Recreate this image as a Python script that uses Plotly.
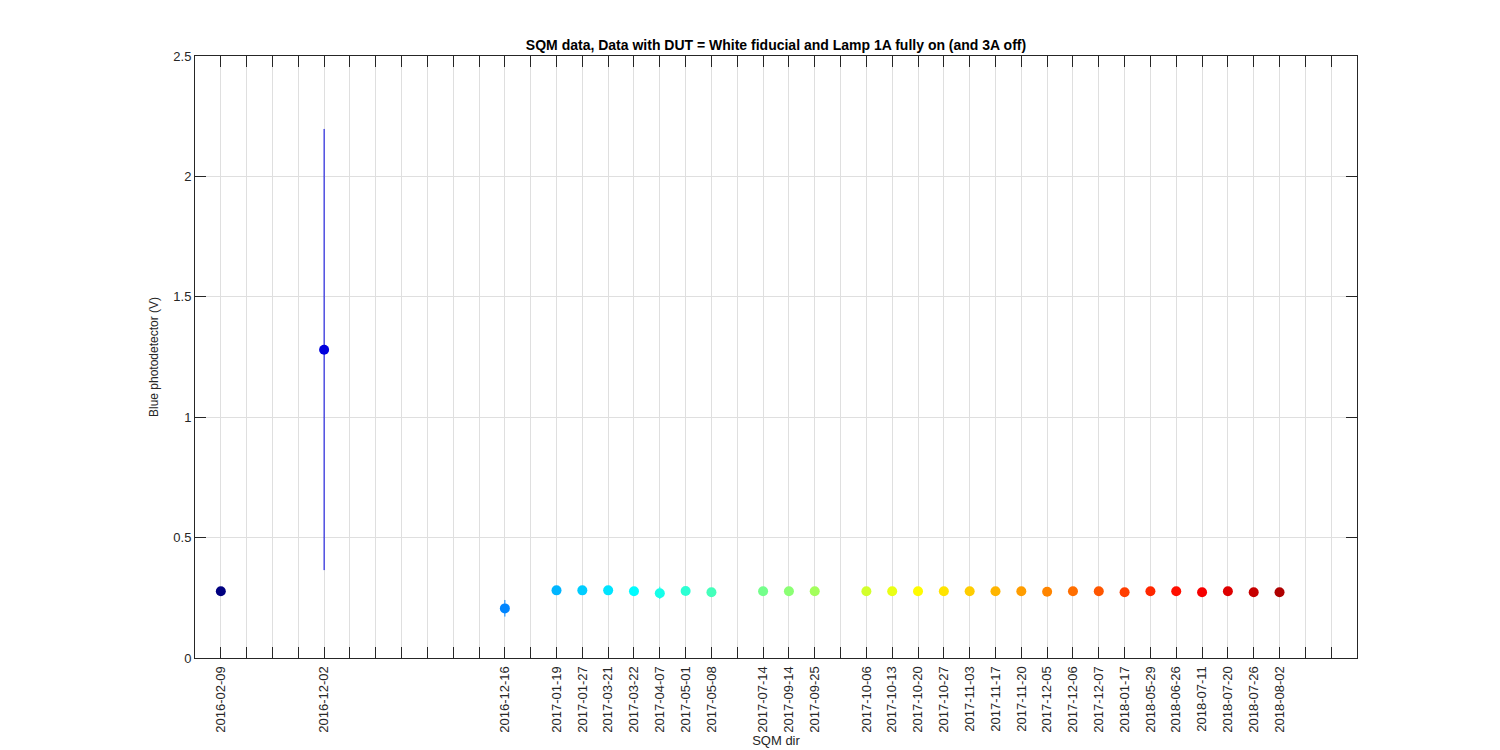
import plotly.graph_objects as go

# Data
positions = [1, 5, 12, 14, 15, 16, 17, 18, 19, 20, 22, 23, 24, 26, 27, 28, 29, 30,
             31, 32, 33, 34, 35, 36, 37, 38, 39, 40, 41, 42]
dates = ["2016-02-09", "2016-12-02", "2016-12-16", "2017-01-19", "2017-01-27",
         "2017-03-21", "2017-03-22", "2017-04-07", "2017-05-01", "2017-05-08",
         "2017-07-14", "2017-09-14", "2017-09-25", "2017-10-06", "2017-10-13",
         "2017-10-20", "2017-10-27", "2017-11-03", "2017-11-17", "2017-11-20",
         "2017-12-05", "2017-12-06", "2017-12-07", "2018-01-17", "2018-05-29",
         "2018-06-26", "2018-07-11", "2018-07-20", "2018-07-26", "2018-08-02"]
values = [0.277, 1.280, 0.206, 0.281, 0.281, 0.281, 0.277, 0.269, 0.278, 0.273,
          0.277, 0.277, 0.277, 0.277, 0.277, 0.277, 0.277, 0.277, 0.277, 0.277,
          0.275, 0.277, 0.277, 0.273, 0.277, 0.277, 0.273, 0.277, 0.273, 0.273]
err_plus = [0.004, 0.917, 0.035, 0.004, 0.004, 0.004, 0.004, 0.027, 0.004, 0.004,
            0.004, 0.004, 0.004, 0.004, 0.004, 0.004, 0.004, 0.004, 0.004, 0.004,
            0.004, 0.004, 0.004, 0.004, 0.004, 0.004, 0.004, 0.004, 0.004, 0.004]
err_minus = [0.004, 0.915, 0.034, 0.004, 0.004, 0.004, 0.004, 0.024, 0.004, 0.004,
             0.004, 0.004, 0.004, 0.004, 0.004, 0.004, 0.004, 0.004, 0.004, 0.004,
             0.004, 0.004, 0.004, 0.004, 0.004, 0.004, 0.004, 0.004, 0.004, 0.004]

n_slots = 44
y_ticks = [0, 0.5, 1, 1.5, 2, 2.5]


def jet(t):
    def c(v):
        return max(0.0, min(1.0, v))
    r = c(1.5 - abs(4 * t - 3))
    g = c(1.5 - abs(4 * t - 2))
    b = c(1.5 - abs(4 * t - 1))
    return "rgb(%d,%d,%d)" % (round(r * 255), round(g * 255), round(b * 255))


fig = go.Figure()
for p, d, v, ep, em in zip(positions, dates, values, err_plus, err_minus):
    col = jet((p - 1) / (n_slots - 1))
    fig.add_trace(go.Scatter(
        x=[p], y=[v], mode="markers", name=d, showlegend=False,
        marker=dict(size=10, color=col, line=dict(width=0)),
        error_y=dict(type="data", symmetric=False, array=[ep], arrayminus=[em],
                     color=col, thickness=1, width=0),
    ))

tickvals = list(range(1, n_slots + 1))
label_map = dict(zip(positions, dates))
ticktext = [label_map.get(v, "") for v in tickvals]

FONT = "Liberation Sans, Arial"
axis_common = dict(
    showline=True, linecolor="#262626", linewidth=1, mirror="ticks",
    ticks="inside", ticklen=11, tickcolor="#262626", tickwidth=1,
    showgrid=True, gridcolor="#dfdfdf", gridwidth=1, zeroline=False,
    tickfont=dict(family=FONT, size=13, color="#262626"),
)

fig.update_layout(
    width=1500, height=750,
    paper_bgcolor="white", plot_bgcolor="white",
    margin=dict(l=187, r=151, t=48, b=100),
    font=dict(family=FONT, size=13, color="#262626"),
    title=dict(text="<b>SQM data, Data with DUT = White fiducial and Lamp 1A fully on (and 3A off)</b>",
               x=768 / 1500, xanchor="center", y=1 - 37 / 750, yanchor="middle",
               font=dict(family=FONT, size=14, color="black")),
    xaxis=dict(range=[0, 45], tickmode="array", tickvals=tickvals, ticktext=ticktext,
               tickangle=-90, ticklabelstandoff=2,
               title=dict(text="SQM dir", standoff=1,
                          font=dict(family=FONT, size=13, color="#262626")),
               **axis_common),
    yaxis=dict(range=[0, 2.5], tickmode="array", tickvals=y_ticks,
               ticktext=["0", "0.5", "1", "1.5", "2", "2.5"],
               title=dict(text="Blue photodetector (V)", standoff=12,
                          font=dict(family=FONT, size=12, color="#262626")),
               **axis_common),
)

fig.write_html("out.html")
